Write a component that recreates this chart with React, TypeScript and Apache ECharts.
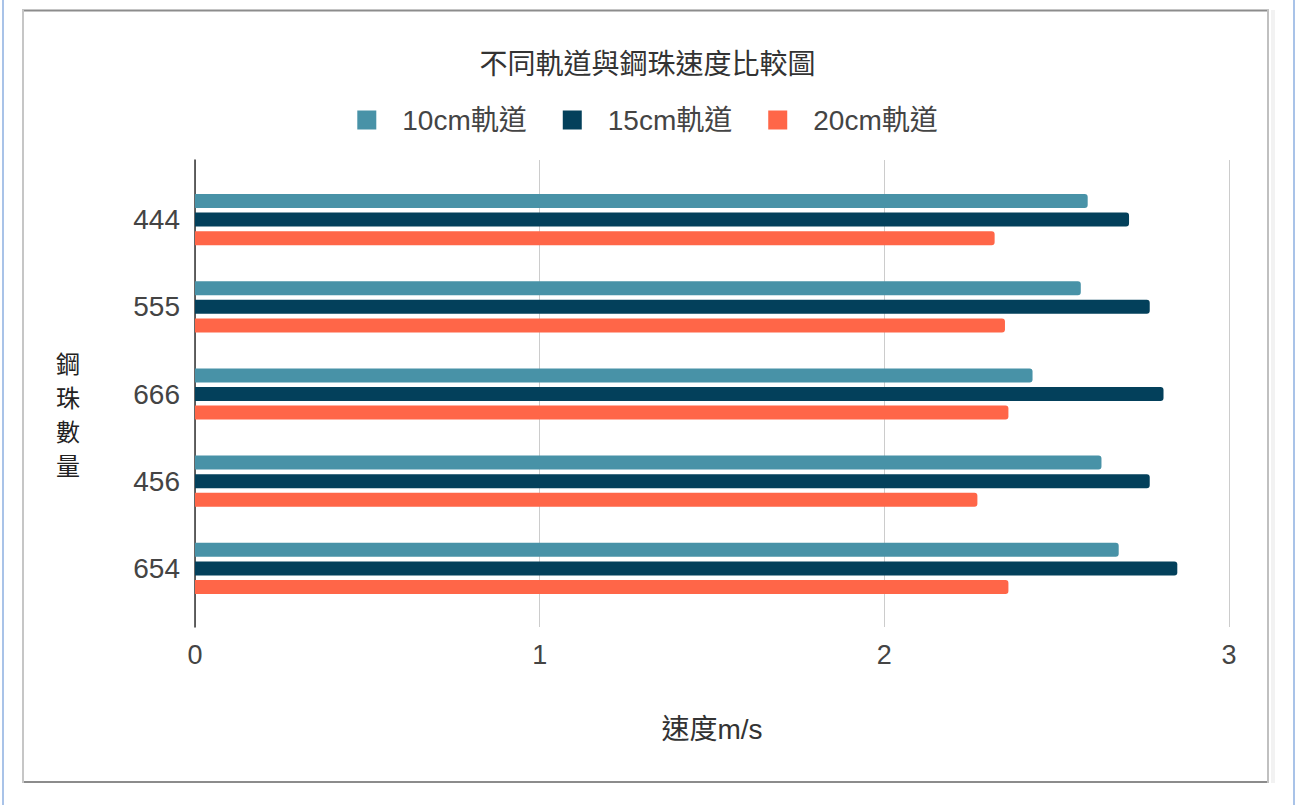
import React, { useEffect, useRef } from "react";
import * as echarts from "echarts";

const categories = ["444", "555", "666", "456", "654"];
const seriesNames = ["10cm軌道", "15cm軌道", "20cm軌道"];
const track10 = [2.59, 2.57, 2.43, 2.63, 2.68];
const track15 = [2.71, 2.77, 2.81, 2.77, 2.85];
const track20 = [2.32, 2.35, 2.36, 2.27, 2.36];
const colors = ["#4892a7", "#03405b", "#ff6648"];
const xMin = 0;
const xMax = 3;
const xInterval = 1;

const FONT = "'Liberation Sans', 'Noto Sans CJK TC', Arial, sans-serif";

export default function App() {
  const ref = useRef<HTMLDivElement>(null);
  useEffect(() => {
    if (!ref.current) return;
    const chart = echarts.init(ref.current, null, { renderer: "svg" });
    const values = [track10, track15, track20];
    const option: any = {
      animation: false,
      backgroundColor: "#ffffff",
      textStyle: { fontFamily: FONT },
      title: {
        text: "不同軌道與鋼珠速度比較圖",
        left: "center",
        top: 45,
        textStyle: { fontSize: 28, fontWeight: "normal", color: "#333333", fontFamily: FONT },
      },
      legend: {
        top: 101,
        left: "center",
        itemWidth: 19,
        itemHeight: 19,
        itemGap: 36,
        icon: "rect",
        selectedMode: false,
        data: seriesNames,
        textStyle: { fontSize: 28, color: "#444444", fontFamily: FONT, padding: [0, 0, 0, 21] },
      },
      grid: [
        { left: 195, right: 66, top: 160, bottom: 178 },
        { left: 195, right: 66, top: 176, bottom: 193 },
      ],
      xAxis: [
        {
          gridIndex: 0,
          type: "value",
          min: xMin,
          max: xMax,
          interval: xInterval,
          axisLine: { show: false },
          axisTick: { show: false },
          splitLine: { show: true, lineStyle: { color: "#cccccc", width: 1 } },
          axisLabel: { fontSize: 27, color: "#444444", margin: 14, fontFamily: FONT },
          name: "速度m/s",
          nameLocation: "middle",
          nameGap: 88,
          nameTextStyle: { fontSize: 28, color: "#333333", fontFamily: FONT },
        },
        { gridIndex: 1, type: "value", min: xMin, max: xMax, show: false },
      ],
      yAxis: [
        {
          gridIndex: 0,
          type: "value",
          min: 0,
          max: 1,
          axisLine: { show: true, onZero: false, lineStyle: { color: "#333333", width: 1.5 } },
          axisTick: { show: false },
          axisLabel: { show: false },
          splitLine: { show: false },
        },
        {
          gridIndex: 1,
          type: "category",
          data: categories,
          inverse: true,
          axisLine: { show: false },
          axisTick: { show: false },
          axisLabel: { fontSize: 28, color: "#444444", margin: 15, fontFamily: FONT },
        },
      ],
      series: seriesNames.map((name, i) => ({
        name,
        type: "bar",
        xAxisIndex: 1,
        yAxisIndex: 1,
        data: values[i],
        barWidth: 14,
        barGap: "33%",
        itemStyle: { color: colors[i], borderRadius: [0, 3, 3, 0] },
      })),
      graphic: [
        { type: "rect", shape: { x: 2, y: 0, width: 2, height: 805 }, style: { fill: "#a9c3e8" }, silent: true },
        { type: "rect", shape: { x: 1293, y: 0, width: 2, height: 805 }, style: { fill: "#a9c3e8" }, silent: true },
        { type: "rect", shape: { x: 1271, y: 10, width: 4, height: 773 }, style: { fill: "#f2f2f2" }, silent: true },
        { type: "line", shape: { x1: 22, y1: 10.5, x2: 1269, y2: 10.5 }, style: { stroke: "#8c8c8c", lineWidth: 2 }, silent: true },
        { type: "line", shape: { x1: 22, y1: 782, x2: 1269, y2: 782 }, style: { stroke: "#8c8c8c", lineWidth: 2 }, silent: true },
        { type: "line", shape: { x1: 23, y1: 10, x2: 23, y2: 783 }, style: { stroke: "#c6c6c6", lineWidth: 2 }, silent: true },
        { type: "line", shape: { x1: 1268, y1: 10, x2: 1268, y2: 783 }, style: { stroke: "#c0c0c0", lineWidth: 2 }, silent: true },
        {
          type: "text",
          x: 68,
          y: 415,
          silent: true,
          style: {
            text: "鋼\n珠\n數\n量",
            fontSize: 24,
            lineHeight: 34,
            fontFamily: FONT,
            fill: "#222222",
            align: "center",
            verticalAlign: "middle",
          },
        },
      ],
    };
    chart.setOption(option);
    return () => chart.dispose();
  }, []);
  return (
    <div
      ref={ref}
      style={{ position: "fixed", left: 0, top: 0, width: 1295, height: 805, background: "#ffffff" }}
    />
  );
}
